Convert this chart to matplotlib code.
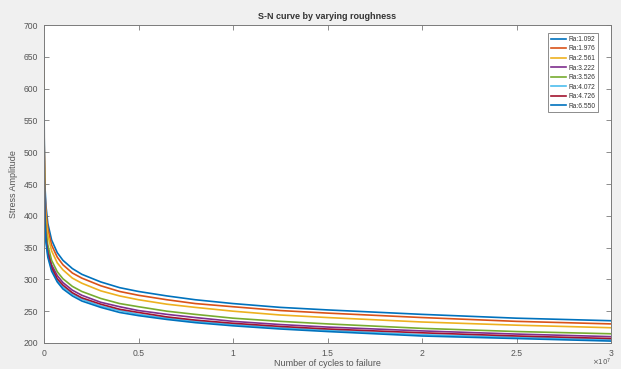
import matplotlib
matplotlib.use("Agg")
import matplotlib.pyplot as plt

# --- data ---
cycles = [1e3, 1e4, 5e4, 1e5, 2e5, 4e5, 7e5, 1e6, 1.5e6, 2e6, 3e6, 4e6, 5e6,
          6.5e6, 8e6, 1e7, 1.25e7, 1.5e7, 2e7, 2.5e7, 3e7]

labels = ["Ra:1.092", "Ra:1.976", "Ra:2.561", "Ra:3.222",
          "Ra:3.526", "Ra:4.072", "Ra:4.726", "Ra:6.550"]

ra_1092 = [659, 523, 446, 416, 388, 362, 342, 330, 317, 308, 296, 287, 281, 274, 268, 262, 256, 252, 245, 239, 235]
ra_1976 = [645, 512, 436, 407, 380, 354, 335, 323, 310, 302, 290, 281, 275, 268, 262, 257, 251, 247, 240, 234, 230]
ra_2561 = [628, 499, 425, 396, 370, 345, 326, 315, 302, 294, 282, 274, 268, 261, 256, 250, 244, 240, 233, 228, 224]
ra_3222 = [589, 468, 398, 371, 347, 323, 306, 295, 283, 275, 264, 257, 251, 245, 240, 234, 229, 225, 219, 214, 210]
ra_3526 = [601, 478, 407, 379, 354, 330, 312, 301, 289, 281, 270, 262, 257, 250, 245, 239, 234, 230, 223, 218, 214.5]
ra_4072 = [575, 456, 389, 363, 338, 316, 298, 288, 277, 269, 258, 251, 245, 239, 234, 229, 224, 220, 213, 209, 205]
ra_4726 = [580, 461, 392, 366, 342, 319, 301, 291, 279, 271, 261, 253, 248, 241, 236, 231, 226, 222, 216, 211, 207]
ra_6550 = [569, 452, 385, 359, 335, 313, 296, 285, 274, 266, 256, 248, 243, 237, 232, 227, 222, 218, 211, 207, 203]

series = [ra_1092, ra_1976, ra_2561, ra_3222, ra_3526, ra_4072, ra_4726, ra_6550]
colors = ["#0072BD", "#D95319", "#EDB120", "#7E2F8E",
          "#77AC30", "#4DBEEE", "#A2142F", "#0072BD"]

xticks = [0, 0.5e7, 1e7, 1.5e7, 2e7, 2.5e7, 3e7]
xticklabels = ["0", "0.5", "1", "1.5", "2", "2.5", "3"]
yticks = [200, 250, 300, 350, 400, 450, 500, 550, 600, 650, 700]

# --- style ---
plt.rcParams["font.family"] = ["Liberation Sans", "DejaVu Sans"]
axis_color = "#7a7a7a"
text_color = "#555555"

fig = plt.figure(figsize=(6.21, 3.69), dpi=100, facecolor="#f0f0f0")
ax = fig.add_axes([0.0709, 0.0705, 0.913, 0.8617])
ax.set_facecolor("white")

for vals, lab, col in zip(series, labels, colors):
    ax.plot(cycles, vals, color=col, lw=1.2, label=lab)

ax.set_xlim(0, 3e7)
ax.set_ylim(200, 700)
ax.set_xticks(xticks)
ax.set_xticklabels(xticklabels)
ax.set_yticks(yticks)

ax.tick_params(direction="in", length=3.5, width=0.6, colors=axis_color,
               labelcolor=text_color, labelsize=6.2, top=True, right=True, pad=4)
for sp in ax.spines.values():
    sp.set_color(axis_color)
    sp.set_linewidth(0.7)

ax.set_title("S-N curve by varying roughness", fontsize=6.5, fontweight="bold",
             color="#333333", pad=4)
ax.set_xlabel("Number of cycles to failure", fontsize=6.5, color=text_color, labelpad=1)
ax.set_ylabel("Stress Amplitude", fontsize=6.5, color=text_color, labelpad=4)

# axis multiplier below the last x tick
ax.text(1.0, -0.042, r"$\times10^{7}$", transform=ax.transAxes, ha="right", va="top",
        fontsize=5, color=text_color)

leg = ax.legend(loc="upper right", bbox_to_anchor=(0.977, 0.974), borderaxespad=0,
                fontsize=4.8, handlelength=2.3, handletextpad=0.3, labelspacing=0.38,
                borderpad=0.4, fancybox=False, framealpha=1, edgecolor=axis_color)
leg.get_frame().set_linewidth(0.6)
for t in leg.get_texts():
    t.set_color("#333333")

fig.savefig("out.png", dpi=100, facecolor=fig.get_facecolor())
